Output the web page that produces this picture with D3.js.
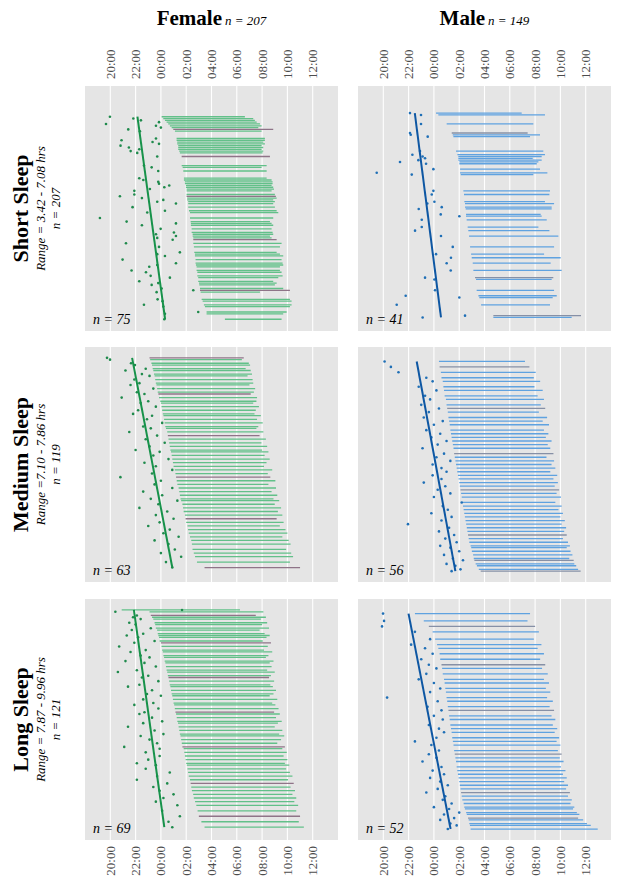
<!DOCTYPE html>
<html><head><meta charset="utf-8">
<script src="https://cdn.jsdelivr.net/npm/d3@7"></script>
<style>body{margin:0;background:#fff}svg{display:block}</style>
</head><body><svg id="c" width="619" height="885"></svg>
<script>
// ---------- labels ----------
const sexes = ["Female", "Male"];
const sexN = ["207", "149"];
const sleepGroups = ["Short Sleep", "Medium Sleep", "Long Sleep"];
const rangeLabels = ["Range = 3.42 - 7.08 hrs", "Range =7.10 - 7.86 hrs", "Range = 7.87 - 9.96 hrs"];
const groupN = ["207", "119", "121"];
const tickLabels = ["20:00", "22:00", "00:00", "02:00", "04:00", "06:00", "08:00", "10:00", "12:00"];
const tickHours = [20, 22, 24, 26, 28, 30, 32, 34, 36];
const hourDomain = [18, 38];
const rankDomains = [[-14, 121.5], [-5, 125], [-5, 127]];

// ---------- Female, short sleep (rank, dot time, sleep on, sleep off; hours, >24 = next day) ----------
const fShortRank = [3,4,5,6,7,8,9,10,11,15,16,17,18,19,20,21,22,23,25,30,31,33,37,38,39,40,41,42,43,44,46,47,48,49,50,51,53,55,56,59,61,62,63,65,67,68,69,70,71,73,75,78,79,80,82,84,85,86,88,89,91,92,94,95,96,98,99,100,104,105,107,108,111,112,115];
const fShortDot = [19.97,21.82,22.42,23.85,19.66,23.61,24.00,21.42,22.34,23.61,20.89,23.34,23.85,20.81,21.47,22.29,21.61,22.13,23.71,22.66,23.27,23.79,22.29,22.61,23.79,23.85,24.66,24.27,23.13,21.90,21.90,20.76,22.50,24.19,23.71,25.19,21.76,24.32,22.92,19.18,21.29,25.19,22.50,23.98,25.03,23.61,25.19,23.71,24.93,21.24,23.85,25.50,23.71,24.32,20.97,25.19,23.71,23.08,21.68,22.82,23.19,24.71,22.29,23.79,23.27,24.06,26.56,23.66,23.74,24.13,22.66,24.19,26.95,24.32,24.27];
const fShortOn = [24.06,24.19,24.32,24.45,24.58,24.71,24.85,24.98,25.11,25.24,25.24,25.29,25.29,25.37,25.37,25.37,25.45,25.50,25.64,25.64,25.72,25.77,25.82,25.82,25.90,25.90,25.98,25.98,26.03,26.03,26.03,26.03,26.08,26.08,26.16,26.16,26.16,26.22,26.30,26.30,26.35,26.37,26.37,26.43,26.43,26.51,26.51,26.56,26.56,26.56,26.61,26.64,26.69,26.69,26.74,26.74,26.77,26.82,26.82,26.88,26.88,26.95,26.95,27.01,27.03,27.09,27.09,27.14,27.22,27.30,27.40,27.48,27.61,27.61,29.06];
const fShortOff = [30.64,31.30,31.43,31.57,31.83,31.96,31.70,32.88,31.96,32.22,32.22,32.09,32.22,31.96,32.09,31.96,32.09,32.04,32.62,32.36,31.96,32.36,32.36,32.75,32.83,32.83,32.75,32.88,32.94,32.75,33.01,33.09,33.15,32.88,33.01,32.88,33.01,33.15,33.28,32.88,32.62,32.75,32.88,32.75,32.83,32.88,32.62,32.75,33.15,33.54,33.41,33.15,33.41,33.67,33.54,33.62,33.67,33.41,33.41,33.54,33.62,33.28,32.88,33.15,33.01,33.67,34.20,31.83,34.20,34.33,34.33,34.20,33.94,33.67,33.54];
const fShortDark = [10, 25, 47, 71, 99];

// ---------- Male, short sleep ----------
const mShortRank = [1,2,7,12,13,14,22,24,25,26,27,28,29,32,34,35,44,46,50,51,53,54,57,58,60,64,66,69,75,79,81,84,88,92,93,99,102,103,107,113,114];
const mShortDot = [22.11,22.98,22.98,22.11,22.17,23.51,22.90,22.30,23.11,23.30,22.77,21.32,23.38,23.96,19.48,22.25,23.96,23.83,24.04,23.48,24.62,22.80,24.54,26.01,23.04,23.04,22.51,24.56,25.49,24.17,25.35,25.01,25.33,23.30,24.04,24.09,21.77,26.01,21.06,26.46,23.11];
const mShortOn = [24.17,24.35,25.01,25.41,25.49,25.54,25.75,25.86,25.93,25.93,25.93,26.01,26.01,26.07,26.07,26.12,26.33,26.38,26.41,26.46,26.46,26.51,26.54,26.54,26.59,26.67,26.72,26.78,26.86,26.94,26.99,27.07,27.12,27.25,27.33,27.38,27.52,27.59,27.73,28.70,28.70];
const mShortOff = [30.94,32.78,31.86,31.41,32.39,31.60,32.65,32.78,32.52,31.81,32.52,32.26,32.13,32.39,32.97,31.86,33.18,33.13,32.78,33.50,33.31,33.31,32.44,32.52,32.92,32.26,33.13,33.84,33.50,32.71,34.02,33.23,34.10,33.44,33.31,33.50,33.71,33.39,33.18,35.63,34.89];
const mShortDark = [12, 92, 113];

// ---------- Female, medium sleep ----------
const fMedRank = [1,2,4,5,7,8,10,11,13,15,16,18,20,21,23,25,26,28,30,32,33,35,37,39,40,42,44,46,48,50,52,53,55,57,59,61,63,65,67,69,71,73,75,77,79,80,82,84,86,88,90,92,94,96,98,100,102,104,107,109,111,114,117];
const fMedDot = [19.74,19.98,21.64,21.95,22.80,21.20,22.50,23.10,21.90,22.30,21.60,23.40,22.10,22.70,20.90,23.00,22.40,23.60,22.20,21.80,23.30,22.90,24.10,22.60,23.20,21.50,23.70,22.80,24.30,23.10,22.00,23.90,23.40,24.60,22.70,23.60,24.90,23.30,20.80,24.00,23.50,24.90,22.60,24.10,23.20,25.30,23.80,22.30,24.50,23.60,25.00,23.90,23.00,24.70,24.20,25.40,23.50,24.60,25.10,24.00,25.60,24.40,24.90];
const fMedOn = [23.10,23.15,23.25,23.30,23.35,23.40,23.45,23.50,23.55,23.60,23.65,23.70,23.75,23.80,23.85,23.95,24.00,24.05,24.10,24.15,24.20,24.25,24.30,24.35,24.40,24.50,24.55,24.60,24.65,24.70,24.75,24.80,24.85,24.90,24.95,25.00,25.10,25.15,25.20,25.25,25.30,25.40,25.45,25.50,25.55,25.60,25.70,25.75,25.80,25.90,25.95,26.00,26.10,26.15,26.20,26.30,26.40,26.45,26.50,26.60,26.70,26.85,27.45];
const fMedOff = [30.55,30.40,30.95,31.05,30.70,31.10,31.20,30.85,31.25,31.30,31.00,31.45,31.35,31.10,31.60,31.55,31.30,31.75,31.50,31.40,31.90,31.60,32.05,31.70,31.55,32.10,31.80,32.30,31.95,32.40,32.00,32.50,32.20,32.60,32.35,32.15,32.80,32.45,32.65,33.05,32.50,33.10,32.75,33.20,32.90,33.35,33.00,33.50,33.25,33.60,33.15,33.70,33.40,33.85,34.00,33.60,34.10,34.25,33.90,34.30,34.45,34.20,35.00];
const fMedDark = [1, 21, 44, 67, 90, 117];

// ---------- Male, medium sleep ----------
const mMedRank = [3,6,9,12,14,17,19,22,24,27,29,31,34,36,38,41,43,45,47,49,51,54,56,58,60,62,64,66,68,70,72,74,76,78,81,83,85,87,89,91,93,95,97,99,101,103,105,106,108,110,112,113,115,116,118,119];
const mMedDot = [20.10,20.60,21.20,23.40,23.90,22.80,24.20,23.30,23.70,23.00,24.40,23.60,23.20,24.70,24.00,23.40,24.50,23.80,25.00,24.30,23.10,24.80,24.20,25.30,23.90,24.60,25.00,23.90,24.60,23.20,24.90,24.30,25.30,24.00,26.20,24.70,25.10,23.80,25.40,24.60,21.95,25.20,24.40,25.60,24.90,25.80,24.50,25.30,26.00,24.80,25.50,26.30,25.00,25.70,26.10,25.40];
const mMedOn = [24.40,24.45,24.55,24.60,24.70,24.75,24.80,24.85,24.95,25.00,25.05,25.10,25.15,25.20,25.25,25.30,25.35,25.40,25.45,25.50,25.55,25.60,25.65,25.70,25.75,25.80,25.85,25.90,25.95,26.00,26.05,26.10,26.15,26.20,26.25,26.30,26.35,26.40,26.45,26.50,26.55,26.60,26.65,26.70,26.75,26.80,26.90,26.95,27.00,27.10,27.15,27.20,27.30,27.40,27.55,27.70];
const mMedOff = [31.20,31.55,32.05,31.90,32.40,31.95,32.60,32.20,32.70,32.45,32.80,32.30,32.95,32.60,33.10,32.70,33.05,32.85,33.30,33.00,33.20,33.45,32.90,33.50,33.30,33.60,33.20,33.75,33.45,33.80,33.55,33.90,33.70,34.05,33.60,34.10,33.85,34.20,34.00,34.35,34.10,34.45,34.30,34.50,34.20,34.60,34.75,34.50,34.80,34.95,34.70,35.05,35.10,35.25,35.40,35.60];
const mMedDark = [6, 29, 54, 74, 99, 113, 119];

// ---------- Female, long sleep ----------
const fLongRank = [1,2,4,5,6,8,9,11,12,14,15,16,18,19,21,23,24,26,27,29,30,32,34,35,37,38,40,42,43,45,47,48,50,52,53,55,57,58,60,62,63,65,67,69,70,72,74,76,77,79,81,83,85,86,88,90,92,94,96,98,100,102,104,106,108,111,114,117,120];
const fLongDot = [25.67,20.40,22.10,21.80,22.40,21.50,22.00,23.20,21.70,22.60,21.30,22.20,23.50,21.90,20.70,22.80,21.60,22.40,23.10,21.20,22.70,23.60,22.10,20.60,23.00,22.50,23.80,22.30,21.40,23.30,22.90,24.00,22.60,23.40,21.90,23.80,22.70,22.30,23.30,24.10,22.60,21.40,23.50,24.20,22.40,23.10,23.70,21.10,23.90,22.80,23.90,23.00,22.10,23.60,22.80,24.70,23.70,22.10,24.50,23.40,23.90,25.00,24.20,23.60,25.30,24.10,25.50,24.60,24.90];
const fLongOn = [20.90,23.10,23.20,23.30,23.40,23.50,23.55,23.60,23.70,23.75,23.80,23.85,23.90,24.00,24.05,24.10,24.15,24.20,24.25,24.30,24.35,24.40,24.45,24.50,24.55,24.60,24.65,24.70,24.75,24.80,24.85,24.90,24.95,25.00,25.05,25.10,25.15,25.20,25.25,25.30,25.35,25.40,25.45,25.50,25.55,25.60,25.65,25.70,25.80,25.85,25.90,25.95,26.00,26.05,26.10,26.15,26.20,26.30,26.35,26.40,26.45,26.55,26.60,26.70,26.80,26.90,27.00,27.20,27.45];
const fLongOff = [30.25,32.10,31.50,32.30,31.90,32.40,32.00,32.55,31.80,32.20,32.60,32.35,32.05,32.70,32.45,32.15,32.80,32.50,32.30,32.90,32.60,32.75,32.40,33.00,32.70,32.55,32.95,32.65,32.85,33.10,32.90,32.60,33.20,32.80,33.05,33.30,32.95,33.40,33.10,33.55,33.25,33.00,33.60,33.35,33.75,33.50,33.20,33.80,33.60,33.95,33.70,34.00,33.80,34.15,33.90,34.20,34.40,34.05,34.50,34.25,34.60,34.40,34.70,34.55,34.85,34.70,35.00,34.90,35.30];
const fLongDark = [4, 19, 38, 57, 76, 96, 114];

// ---------- Male, long sleep ----------
const mLongRank = [3,7,10,13,17,20,22,25,28,31,33,36,39,41,44,46,49,51,54,56,59,61,64,66,68,71,73,75,78,80,82,84,87,89,91,93,95,97,99,101,103,105,107,109,110,112,113,115,116,118,119,121];
const mLongDot = [19.98,20.06,19.90,22.50,23.70,22.20,23.30,23.90,23.00,23.60,24.20,23.40,22.80,24.00,24.50,23.70,20.30,24.30,23.50,24.60,24.00,24.70,23.60,24.40,24.80,24.20,22.50,23.80,24.40,23.60,24.20,23.10,24.60,23.90,24.80,23.70,24.50,25.10,24.30,23.40,24.90,24.70,25.40,24.00,25.20,26.00,24.80,25.60,24.50,25.30,25.80,25.10];
const mLongOn = [22.50,23.20,23.60,23.90,24.10,24.25,24.35,24.45,24.50,24.60,24.65,24.70,24.80,24.85,24.90,24.95,25.00,25.05,25.10,25.15,25.20,25.25,25.30,25.35,25.40,25.45,25.50,25.55,25.60,25.65,25.70,25.75,25.80,25.85,25.90,25.95,26.00,26.05,26.10,26.15,26.20,26.25,26.35,26.40,26.45,26.55,26.60,26.70,26.75,26.80,26.85,26.90];
const mLongOff = [31.60,31.40,32.00,32.30,31.90,32.50,32.20,32.70,32.40,32.80,32.55,33.00,32.70,33.10,32.85,33.20,32.95,33.40,33.15,33.50,33.30,33.60,33.40,33.75,33.55,33.90,33.70,34.00,33.80,34.10,33.95,34.25,34.05,34.40,34.20,34.50,34.30,34.60,34.45,34.75,34.60,34.90,34.80,35.10,35.00,35.30,35.50,35.40,35.80,36.10,36.40,36.95];
const mLongDark = [10, 31, 56, 80, 101, 115];

// ---------- layout ----------
const W = 619, H = 885;
const colX = [85, 358], panelW = 253;
const rowY = [[86, 331], [347, 582], [599, 840]];
const palette = [
  {seg: "#62c089", dark: "#8f7488", dot: "#1f8a4c", line: "#17924a"},
  {seg: "#5fa2e0", dark: "#8690a6", dot: "#1f6fb6", line: "#0e57a3"}
];
const serif = "'Liberation Serif','Times New Roman',serif";

const panels = [
  {r:0,c:0,rank:fShortRank,dot:fShortDot,on:fShortOn,off:fShortOff,dark:fShortDark},
  {r:0,c:1,rank:mShortRank,dot:mShortDot,on:mShortOn,off:mShortOff,dark:mShortDark},
  {r:1,c:0,rank:fMedRank,dot:fMedDot,on:fMedOn,off:fMedOff,dark:fMedDark},
  {r:1,c:1,rank:mMedRank,dot:mMedDot,on:mMedOn,off:mMedOff,dark:mMedDark},
  {r:2,c:0,rank:fLongRank,dot:fLongDot,on:fLongOn,off:fLongOff,dark:fLongDark},
  {r:2,c:1,rank:mLongRank,dot:mLongDot,on:mLongOn,off:mLongOff,dark:mLongDark}
];

const svg = d3.select("#c");
svg.append("rect").attr("width", W).attr("height", H).attr("fill", "#fff");

const xScales = colX.map(x0 => d3.scaleLinear().domain(hourDomain).range([x0, x0 + panelW]));
const yScales = rowY.map((ry, i) => d3.scaleLinear().domain(rankDomains[i]).range(ry));

// column titles
sexes.forEach((s, c) => {
  const cx = colX[c] + panelW / 2;
  const t = svg.append("text").attr("x", cx).attr("y", 25).attr("text-anchor", "middle")
    .attr("font-family", serif).attr("fill", "#000");
  t.append("tspan").attr("font-weight", "bold").attr("font-size", 21).text(s);
  t.append("tspan").attr("font-style", "italic").attr("font-size", 13).attr("dx", 3).text("n = " + sexN[c]);
});

// row labels
sleepGroups.forEach((g, r) => {
  const cy = (rowY[r][0] + rowY[r][1]) / 2;
  svg.append("text").attr("transform", `translate(28,${cy}) rotate(-90)`).attr("text-anchor", "middle")
    .attr("font-family", serif).attr("font-weight", "bold").attr("font-size", 22).text(g);
  svg.append("text").attr("transform", `translate(45,${cy}) rotate(-90)`).attr("text-anchor", "middle")
    .attr("font-family", serif).attr("font-style", "italic").attr("font-size", 13).text(rangeLabels[r]);
  svg.append("text").attr("transform", `translate(60,${cy}) rotate(-90)`).attr("text-anchor", "middle")
    .attr("font-family", serif).attr("font-style", "italic").attr("font-size", 13).text("n = " + groupN[r]);
});

// axes tick labels (top and bottom)
colX.forEach((x0, c) => {
  const xs = xScales[c];
  tickHours.forEach((h, i) => {
    svg.append("text").attr("transform", `translate(${xs(h)},${rowY[0][0] - 7}) rotate(-90)`)
      .attr("text-anchor", "start").attr("dy", "0.35em").attr("font-family", serif).attr("font-size", 13)
      .attr("fill", "#4d4d4d").text(tickLabels[i]);
    svg.append("text").attr("transform", `translate(${xs(h)},${rowY[2][1] + 6}) rotate(-90)`)
      .attr("text-anchor", "end").attr("dy", "0.35em").attr("font-family", serif).attr("font-size", 13)
      .attr("fill", "#4d4d4d").text(tickLabels[i]);
  });
});

// panels
panels.forEach(p => {
  const xs = xScales[p.c], ys = yScales[p.r], col = palette[p.c];
  const g = svg.append("g");
  g.append("rect").attr("x", xs.range()[0]).attr("y", rowY[p.r][0])
    .attr("width", panelW).attr("height", rowY[p.r][1] - rowY[p.r][0]).attr("fill", "#e5e5e5");
  g.selectAll("line.grid").data(tickHours).join("line").attr("class", "grid")
    .attr("x1", d => xs(d)).attr("x2", d => xs(d)).attr("y1", rowY[p.r][0]).attr("y2", rowY[p.r][1])
    .attr("stroke", "#fff").attr("stroke-width", 1.1);
  const rows = p.rank.map((rk, i) => ({rk, dot: p.dot[i], on: p.on[i], off: p.off[i], dark: p.dark.includes(rk)}));
  g.selectAll("line.seg").data(rows).join("line").attr("class", "seg")
    .attr("x1", d => xs(d.on)).attr("x2", d => xs(d.off)).attr("y1", d => ys(d.rk)).attr("y2", d => ys(d.rk))
    .attr("stroke", d => d.dark ? col.dark : col.seg).attr("stroke-width", 1.3);
  g.selectAll("circle").data(rows).join("circle")
    .attr("cx", d => xs(d.dot)).attr("cy", d => ys(d.rk)).attr("r", 1.3).attr("fill", col.dot);
  if (rows.length > 1) {
    const mx = d3.mean(rows, d => d.rk), my = d3.mean(rows, d => d.dot);
    const b = d3.sum(rows, d => (d.rk - mx) * (d.dot - my)) / d3.sum(rows, d => (d.rk - mx) ** 2);
    const a = my - b * mx;
    const [r0, r1] = d3.extent(rows, d => d.rk);
    g.append("line").attr("x1", xs(a + b * r0)).attr("y1", ys(r0)).attr("x2", xs(a + b * r1)).attr("y2", ys(r1))
      .attr("stroke", col.line).attr("stroke-width", 2);
  }
  g.append("text").attr("x", xs.range()[0] + 8).attr("y", rowY[p.r][1] - 7)
    .attr("font-family", serif).attr("font-style", "italic").attr("font-size", 14).attr("fill", "#000")
    .text("n = " + p.rank.length);
});
</script></body></html>
